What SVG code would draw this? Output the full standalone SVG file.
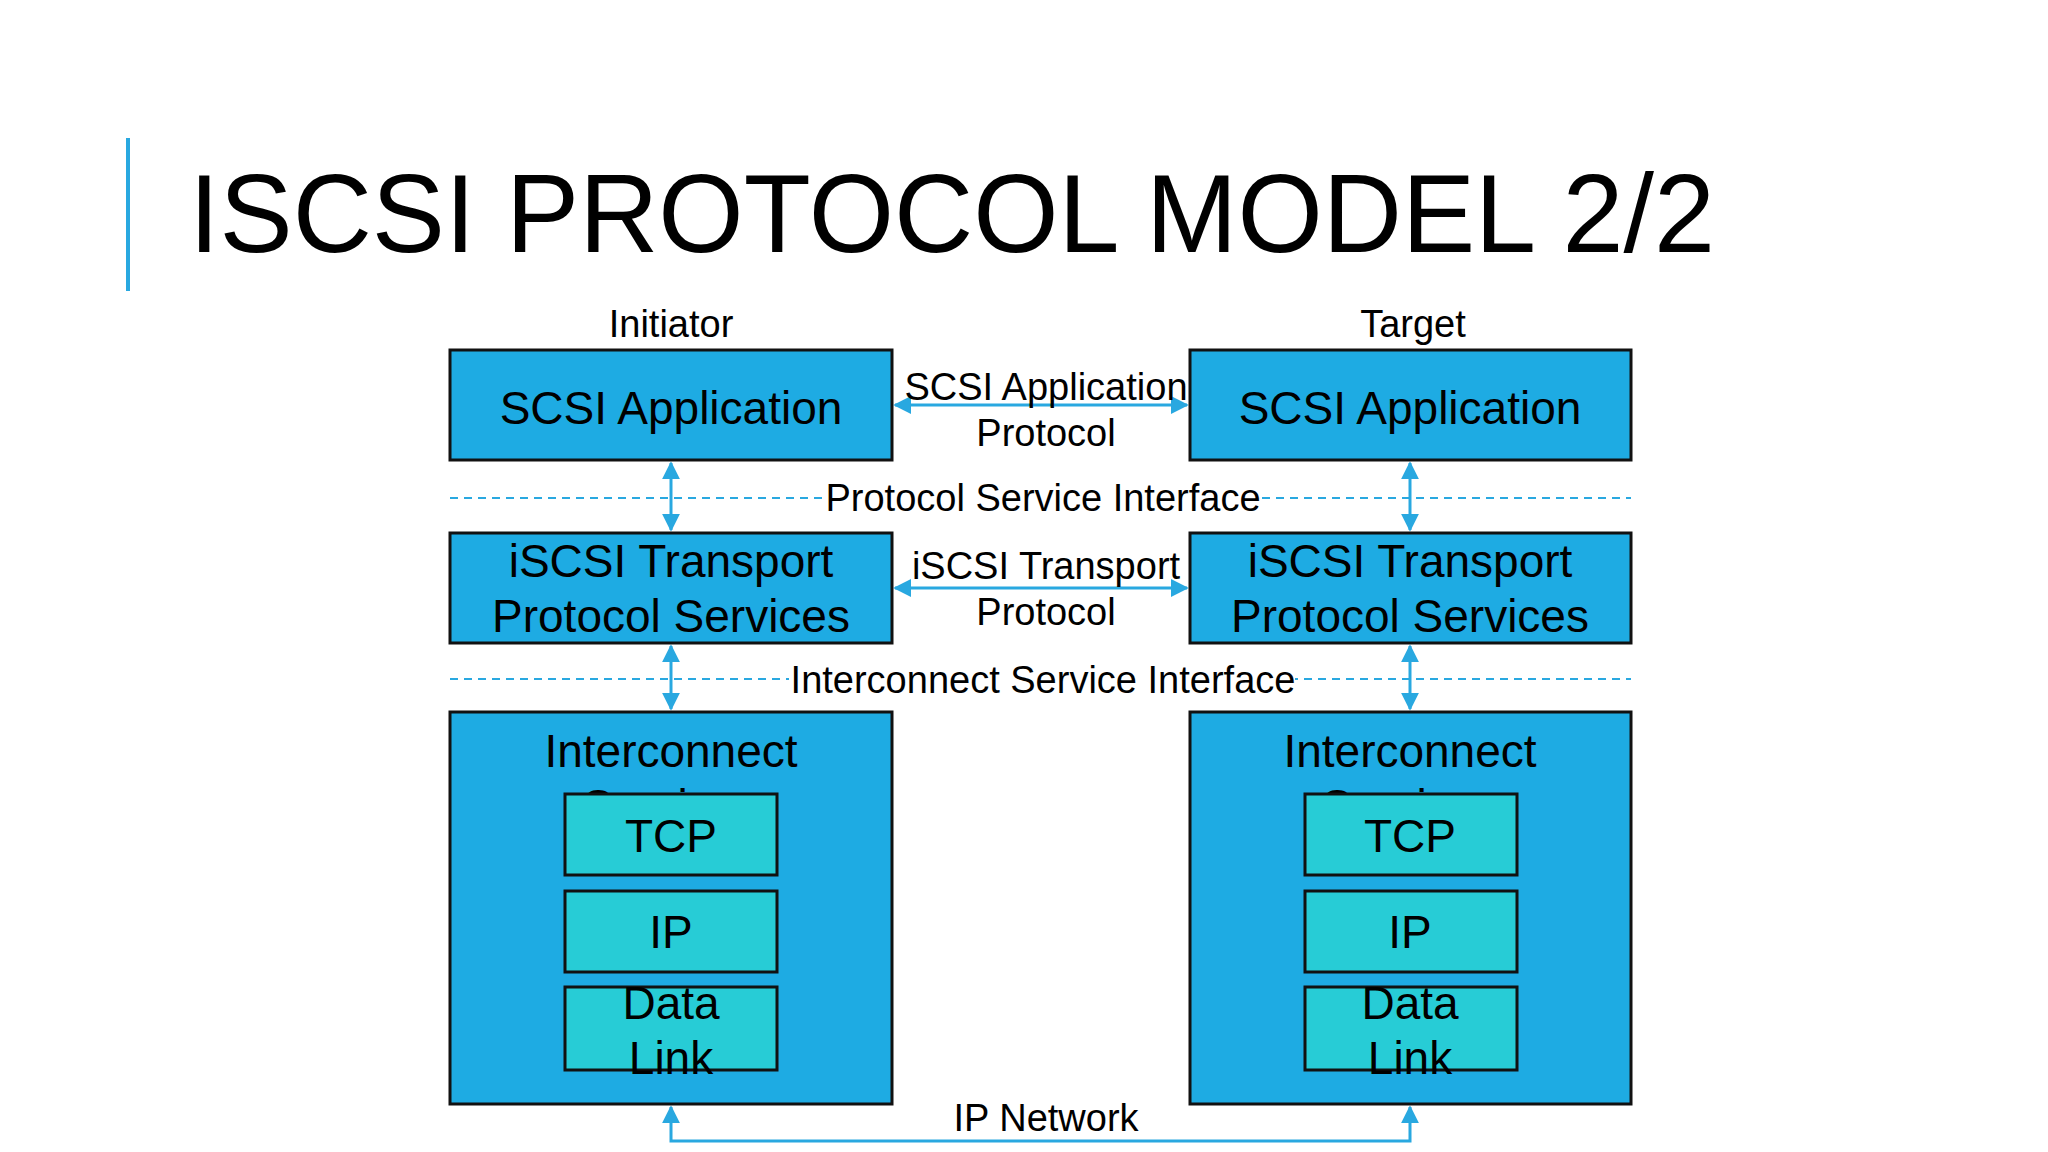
<svg xmlns="http://www.w3.org/2000/svg" width="2048" height="1152" viewBox="0 0 2048 1152">
<style>
text{font-family:"Liberation Sans",Arial,sans-serif;fill:#000;text-anchor:middle}
.box{fill:#1EABE3;stroke:#111;stroke-width:3}
.in{fill:#27CCD6;stroke:#111;stroke-width:3}
.bt{font-size:46px}
.lb{font-size:38px}
.c{stroke:#29A8E0;stroke-width:3;fill:none}
.d{stroke:#29A8E0;stroke-width:2;stroke-dasharray:8 6;fill:none}
</style>
<defs>
<marker id="a" viewBox="0 0 10 10" refX="9" refY="5" markerWidth="6" markerHeight="6" orient="auto-start-reverse"><path d="M0,0L10,5L0,10z" fill="#29A8E0"/></marker>
</defs>
<rect width="2048" height="1152" fill="#fff"/>
<line x1="128" y1="138" x2="128" y2="291" stroke="#29A8E0" stroke-width="4"/>
<text x="189" y="252" style="font-size:112px;text-anchor:start" textLength="1526" lengthAdjust="spacingAndGlyphs">ISCSI PROTOCOL MODEL 2/2</text>
<text class="lb" x="671" y="337">Initiator</text>
<text class="lb" x="1413" y="337">Target</text>
<g id="connectors">
<line class="d" x1="450" y1="498" x2="1631" y2="498"/>
<line class="d" x1="450" y1="679" x2="1631" y2="679"/>
<line class="c" x1="895" y1="405" x2="1187" y2="405" marker-start="url(#a)" marker-end="url(#a)"/>
<line class="c" x1="895" y1="588" x2="1187" y2="588" marker-start="url(#a)" marker-end="url(#a)"/>
<line class="c" x1="671" y1="463" x2="671" y2="530" marker-start="url(#a)" marker-end="url(#a)"/>
<line class="c" x1="1410" y1="463" x2="1410" y2="530" marker-start="url(#a)" marker-end="url(#a)"/>
<line class="c" x1="671" y1="646" x2="671" y2="709" marker-start="url(#a)" marker-end="url(#a)"/>
<line class="c" x1="1410" y1="646" x2="1410" y2="709" marker-start="url(#a)" marker-end="url(#a)"/>
<polyline class="c" points="671,1107 671,1141 1410,1141 1410,1107" marker-start="url(#a)" marker-end="url(#a)"/>
<rect x="824" y="480" width="438" height="36" fill="#fff"/>
<rect x="789" y="661" width="506" height="36" fill="#fff"/>
<text class="lb" x="1043" y="511">Protocol Service Interface</text>
<text class="lb" x="1043" y="693">Interconnect Service Interface</text>
<text class="lb" x="1046" y="400">SCSI Application</text>
<text class="lb" x="1046" y="446">Protocol</text>
<text class="lb" x="1046" y="579">iSCSI Transport</text>
<text class="lb" x="1046" y="625">Protocol</text>
<text class="lb" x="1046" y="1131">IP Network</text>
</g>
<g id="i-app"><rect class="box" x="450" y="350" width="442" height="110"/><text class="bt" x="671" y="424">SCSI Application</text></g>
<g id="t-app"><rect class="box" x="1190" y="350" width="441" height="110"/><text class="bt" x="1410" y="424">SCSI Application</text></g>
<g id="i-tr"><rect class="box" x="450" y="533" width="442" height="110"/><text class="bt" x="671" y="577">iSCSI Transport</text><text class="bt" x="671" y="632">Protocol Services</text></g>
<g id="t-tr"><rect class="box" x="1190" y="533" width="441" height="110"/><text class="bt" x="1410" y="577">iSCSI Transport</text><text class="bt" x="1410" y="632">Protocol Services</text></g>
<g id="i-ic"><rect class="box" x="450" y="712" width="442" height="392"/><text class="bt" x="671" y="767">Interconnect</text><text class="bt" x="671" y="822">Services</text></g>
<g id="t-ic"><rect class="box" x="1190" y="712" width="441" height="392"/><text class="bt" x="1410" y="767">Interconnect</text><text class="bt" x="1410" y="822">Services</text></g>
<g id="i-tcp"><rect class="in" x="565" y="794" width="212" height="81"/><text class="bt" x="671" y="852">TCP</text></g>
<g id="i-ip"><rect class="in" x="565" y="891" width="212" height="81"/><text class="bt" x="671" y="948">IP</text></g>
<g id="i-dl"><rect class="in" x="565" y="987" width="212" height="83"/><text class="bt" x="671" y="1019">Data</text><text class="bt" x="671" y="1074">Link</text></g>
<g id="t-tcp"><rect class="in" x="1305" y="794" width="212" height="81"/><text class="bt" x="1410" y="852">TCP</text></g>
<g id="t-ip"><rect class="in" x="1305" y="891" width="212" height="81"/><text class="bt" x="1410" y="948">IP</text></g>
<g id="t-dl"><rect class="in" x="1305" y="987" width="212" height="83"/><text class="bt" x="1410" y="1019">Data</text><text class="bt" x="1410" y="1074">Link</text></g>
</svg>
